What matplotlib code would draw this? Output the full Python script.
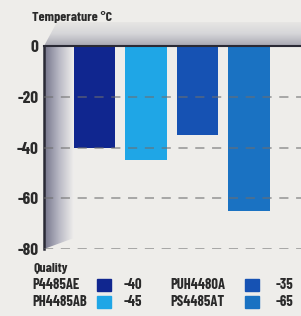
import numpy as np
import matplotlib
matplotlib.use('Agg')
from matplotlib import pyplot as plt
from matplotlib.patches import Polygon, Rectangle

plt.rcParams['font.family'] = ['Barlow Condensed', 'DejaVu Sans']

qualities = ['P4485AE', 'PH4485AB', 'PUH4480A', 'PS4485AT']
temps = [-40, -45, -35, -65]
colors = ['#10268f', '#1fa6e6', '#1652b3', '#1a72c2']
yticks = [0, -20, -40, -60, -80]

W, H = 301, 316
fig = plt.figure(figsize=(W/100, H/100), dpi=100, facecolor='#eeedea')

# decoration layer in pixel coordinates
bg = fig.add_axes([0, 0, 1, 1], zorder=0)
bg.set_xlim(0, W)
bg.set_ylim(H, 0)
bg.axis('off')

# top shaded band
grad = np.linspace(0, 1, 64).reshape(-1, 1)
im = bg.imshow(grad, cmap=matplotlib.colors.LinearSegmentedColormap.from_list(
    'top', ['#e8e7e5', '#d6d6d9', '#a8a8b2']), extent=(44, W, 46, 21),
    aspect='auto', zorder=1)
im.set_clip_path(Polygon([(44, 46), (57, 22), (W, 22), (W, 46)],
                         transform=bg.transData))

# left wall
gradx = np.linspace(0, 1, 64).reshape(1, -1)
im2 = bg.imshow(gradx, cmap=matplotlib.colors.LinearSegmentedColormap.from_list(
    'wall', ['#74748a', '#b8b8c4', '#efeeec']), extent=(44, 74, 249, 46),
    aspect='auto', zorder=1)
im2.set_clip_path(Polygon([(44, 46), (74, 46), (74, 238), (44, 249)],
                          transform=bg.transData))

ax = fig.add_axes([44/W, 67/H, (W-44)/W, 203/H], zorder=1)
ax.set_facecolor('none')
x = np.arange(len(qualities))
ax.bar(x, temps, width=0.8, color=colors, zorder=2)
for t in yticks[1:]:
    ax.axhline(t, color='#6e6e6e', lw=1.1, dashes=(6, 5), alpha=0.7, zorder=3)
ax.set_xlim(-0.98, 4.01)
ax.set_ylim(-80, 0)
ax.set_xticks([])
ax.set_yticks(yticks)
ax.set_yticklabels([str(t) for t in yticks], fontsize=12.5, fontweight='bold',
                   color='#2a2a2a')
ax.tick_params(axis='y', length=0, pad=4)
for s in ['right', 'bottom']:
    ax.spines[s].set_visible(False)
ax.spines['left'].set_color('#2a2a35')
ax.spines['left'].set_linewidth(1.8)
ax.spines['top'].set_color('#2a2a35')
ax.spines['top'].set_linewidth(1.5)

fig.text(32/W, 1 - 17/H, 'Temperature °C', fontsize=10, fontweight='bold',
         va='center', ha='left', color='#2a2a2a')
fig.text(33/W, 1 - 268/H, 'Quality', fontsize=10, fontweight='bold',
         va='center', ha='left', color='#2a2a2a')

cols = [(32, 97, 124), (32, 97, 124), (170, 245, 276), (170, 245, 276)]
rows = [285, 302, 285, 302]
for q, t, c, (xn, xs, xv), yr in zip(qualities, temps, colors, cols, rows):
    fig.text(xn/W, 1 - yr/H, q, fontsize=10.5, fontweight='bold', va='center',
             ha='left', color='#2a2a2a')
    bg.add_patch(Rectangle((xs, yr - 6), 14, 12, color=c, zorder=2))
    fig.text(xv/W, 1 - yr/H, str(t), fontsize=10.5, fontweight='bold',
             va='center', ha='left', color='#2a2a2a')

fig.savefig('out.png', dpi=100, facecolor=fig.get_facecolor())
